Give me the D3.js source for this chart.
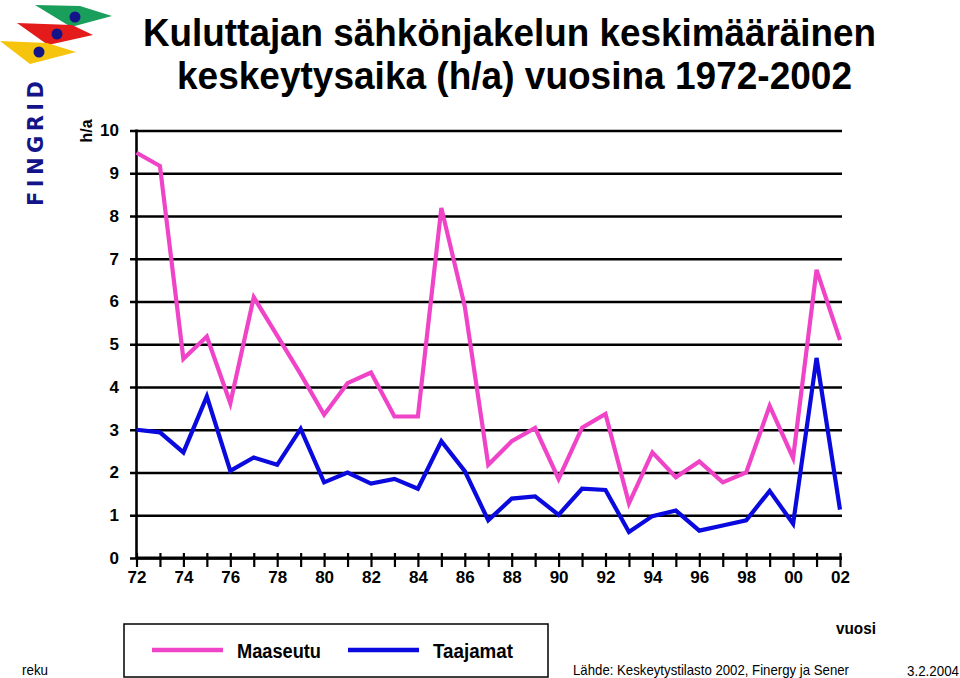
<!DOCTYPE html>
<html><head><meta charset="utf-8">
<script src="https://cdn.jsdelivr.net/npm/d3@7"></script>
<style>
html,body{margin:0;padding:0;background:#fff;}
svg{display:block;font-family:"Liberation Sans",Arial,Helvetica,sans-serif;}
</style></head>
<body>
<svg id="chart" width="960" height="678"></svg>
<script>
// ---- data ----
const years = d3.range(1972, 2003);
const maaseutu = [9.48,9.17,4.66,5.18,3.62,6.10,5.20,4.30,3.35,4.09,4.34,3.31,3.31,8.19,5.88,
                  2.18,2.73,3.04,1.85,3.05,3.37,1.28,2.47,1.89,2.26,1.77,2.00,3.56,2.34,6.74,5.10];
const taajamat = [3.00,2.94,2.47,3.78,2.04,2.35,2.18,3.02,1.77,2.00,1.74,1.85,1.62,2.73,2.03,
                  0.88,1.39,1.44,1.01,1.62,1.59,0.61,0.98,1.11,0.64,0.76,0.88,1.57,0.80,4.68,1.13];
const yTicks = [0,1,2,3,4,5,6,7,8,9,10];
const seriesNames = ["Maaseutu","Taajamat"];
const seriesColors = ["#f044c8","#0a0ade"];

const svg = d3.select("#chart");
const x = d3.scaleLinear().domain([1972,2002]).range([136.5,840]);
const y = d3.scaleLinear().domain([0,10]).range([558,130.5]);

// ---- logo ----
const logo = svg.append("g");
const shapes = [
  {pts:[[35,5],[80,6],[112,16],[71,27]], c:"#1a9e5c", dot:[75,17]},
  {pts:[[17,23],[72,25],[93,35],[48,45]], c:"#e41b1b", dot:[57,34]},
  {pts:[[0,41],[47,43],[76,52],[30,64]], c:"#f6c40c", dot:[39,52]}
];
shapes.forEach(s=>{
  logo.append("polygon").attr("points", s.pts.map(p=>p.join(",")).join(" ")).attr("fill", s.c);
  logo.append("circle").attr("cx", s.dot[0]).attr("cy", s.dot[1]).attr("r", 5.5).attr("fill", "#14148a");
});
logo.append("text").attr("transform","translate(43,206) rotate(-90)")
  .attr("font-size",21).attr("font-weight","900").attr("fill","#14148a")
  .attr("font-family","'DejaVu Sans',sans-serif")
  .attr("textLength",125).attr("lengthAdjust","spacing").text("FINGRID");

// ---- title ----
svg.append("text").attr("x",143).attr("y",46).attr("font-size",39).attr("font-weight","bold")
  .attr("textLength",733).attr("lengthAdjust","spacingAndGlyphs")
  .text("Kuluttajan sähkönjakelun keskimääräinen");
svg.append("text").attr("x",177).attr("y",89).attr("font-size",39).attr("font-weight","bold")
  .attr("textLength",675).attr("lengthAdjust","spacingAndGlyphs")
  .text("keskeytysaika (h/a) vuosina 1972-2002");

// ---- y axis / gridlines ----
const yAxis = d3.axisLeft(y).tickValues(yTicks).tickSize(-(842-130)).tickPadding(11).tickFormat(d3.format("d"));
const gy = svg.append("g").attr("transform","translate(130,0)").call(yAxis);
gy.select(".domain").remove();
gy.selectAll(".tick line").attr("stroke","#000").attr("stroke-width",2.6);
gy.selectAll(".tick text").attr("font-size",17).attr("font-weight","bold").attr("fill","#000")
  .attr("font-family","'Liberation Sans',Arial,sans-serif");
svg.append("line").attr("x1",136.5).attr("x2",136.5).attr("y1",y(10)-1).attr("y2",y(0))
  .attr("stroke","#000").attr("stroke-width",2.6);
svg.append("text").attr("transform","translate(92,131) rotate(-90)").attr("text-anchor","middle")
  .attr("font-size",16).attr("font-weight","bold").text("h/a");

// ---- x axis ----
const xAxis = d3.axisBottom(x).tickValues(years).tickSize(9).tickPadding(4)
  .tickFormat(d => d % 2 === 0 ? d3.format("02d")(d % 100) : "");
const gx = svg.append("g").attr("transform",`translate(0,${y(0)})`).call(xAxis);
gx.select(".domain").attr("stroke","#000").attr("stroke-width",2.8).attr("d",`M${x(1972)},0H${x(2002)+2}`);
gx.selectAll(".tick line").attr("stroke","#000").attr("stroke-width",2.2).attr("y1",-5);
gx.selectAll(".tick text").attr("font-size",17).attr("font-weight","bold").attr("fill","#000")
  .attr("font-family","'Liberation Sans',Arial,sans-serif");

// ---- lines ----
const line = d3.line().x((d,i)=>x(years[i])).y(d=>y(d));
[maaseutu, taajamat].forEach((s,k)=>{
  svg.append("path").datum(s).attr("d", line).attr("fill","none")
    .attr("stroke", seriesColors[k]).attr("stroke-width",4.2).attr("stroke-linejoin","miter");
});

// ---- legend ----
const lg = svg.append("g");
lg.append("rect").attr("x",124).attr("y",624).attr("width",424).attr("height",53)
  .attr("fill","#fff").attr("stroke","#000").attr("stroke-width",1.5);
const legX = [[152,223,237,84],[348,419,433,80]];
seriesNames.forEach((n,k)=>{
  lg.append("line").attr("x1",legX[k][0]).attr("x2",legX[k][1]).attr("y1",650).attr("y2",650)
    .attr("stroke",seriesColors[k]).attr("stroke-width",4.5);
  lg.append("text").attr("x",legX[k][2]).attr("y",658).attr("font-size",20).attr("font-weight","bold")
    .attr("textLength",legX[k][3]).attr("lengthAdjust","spacingAndGlyphs").text(n);
});

// ---- footer texts ----
svg.append("text").attr("x",836).attr("y",634).attr("font-size",16).attr("font-weight","bold")
  .attr("textLength",40).attr("lengthAdjust","spacingAndGlyphs").text("vuosi");
svg.append("text").attr("x",22).attr("y",675).attr("font-size",14)
  .attr("textLength",26).attr("lengthAdjust","spacingAndGlyphs").text("reku");
svg.append("text").attr("x",573).attr("y",675).attr("font-size",15)
  .attr("textLength",276).attr("lengthAdjust","spacingAndGlyphs")
  .text("Lähde: Keskeytystilasto 2002, Finergy ja Sener");
svg.append("text").attr("x",907).attr("y",676).attr("font-size",14)
  .attr("textLength",52).attr("lengthAdjust","spacingAndGlyphs").text("3.2.2004");
</script>
</body></html>
